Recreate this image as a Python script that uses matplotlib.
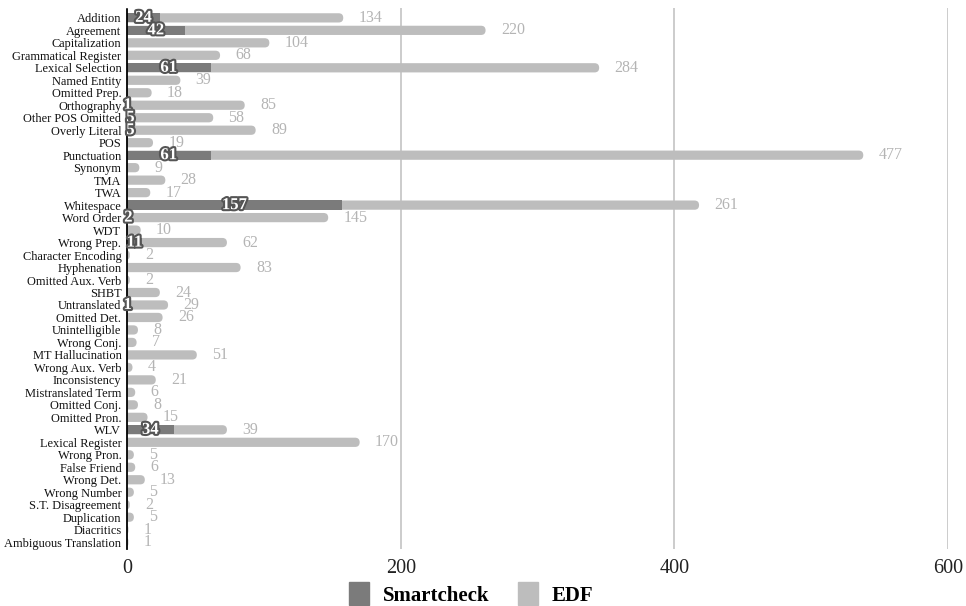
import matplotlib
matplotlib.use("Agg")
import matplotlib.pyplot as plt
import matplotlib.patches as mpatches
import matplotlib.patheffects as pe
import numpy

# Data

categories = [
    "Addition", "Agreement", "Capitalization", "Grammatical Register",
    "Lexical Selection", "Named Entity", "Omitted Prep.", "Orthography",
    "Other POS Omitted", "Overly Literal", "POS", "Punctuation", "Synonym",
    "TMA", "TWA", "Whitespace", "Word Order", "WDT", "Wrong Prep.",
    "Character Encoding", "Hyphenation", "Omitted Aux. Verb", "SHBT",
    "Untranslated", "Omitted Det.", "Unintelligible", "Wrong Conj.",
    "MT Hallucination", "Wrong Aux. Verb", "Inconsistency",
    "Mistranslated Term", "Omitted Conj.", "Omitted Pron.", "WLV",
    "Lexical Register", "Wrong Pron.", "False Friend", "Wrong Det.",
    "Wrong Number", "S.T. Disagreement", "Duplication", "Diacritics",
    "Ambiguous Translation",
]

smartcheck = [24, 42, 0, 0, 61, 0, 0, 1, 5, 5, 0, 61, 0, 0, 0, 157, 2, 0, 11,
              0, 0, 0, 0, 1, 0, 0, 0, 0, 0, 0, 0, 0, 0, 34, 0, 0, 0, 0, 0, 0,
              0, 0, 0]

edf = [134, 220, 104, 68, 284, 39, 18, 85, 58, 89, 19, 477, 9, 28, 17, 261,
       145, 10, 62, 2, 83, 2, 24, 29, 26, 8, 7, 51, 4, 21, 6, 8, 15, 39, 170,
       5, 6, 13, 5, 2, 5, 1, 1]

x_ticks = [0, 200, 400, 600]

series_names = ["Smartcheck", "EDF"]
colors = ["#7b7b7b", "#bdbdbd"]

# Plot generation

plt.rcParams["font.family"] = ["Liberation Serif", "DejaVu Serif"]

fig = plt.figure(figsize=(9.66, 6.06), dpi=100)
ax = fig.add_axes([0.1315, 0.094, 0.85, 0.893])

n = len(categories)
y = numpy.arange(n)
sc = numpy.array(smartcheck)
ed = numpy.array(edf)
total = sc + ed

bar_h = 0.74
r_x = 3.4          # rounding radius in x units
aspect = 0.11      # y units per x unit (visual)

# EDF bars drawn over the full length, rounded at the right end
for i in range(n):
    if total[i] <= 0:
        continue
    w = total[i] + r_x
    r = min(r_x, w / 2.0, bar_h / aspect / 2.0)
    p = mpatches.FancyBboxPatch((-r_x, y[i] - bar_h / 2), w, bar_h,
                                boxstyle=mpatches.BoxStyle("Round", pad=0, rounding_size=r),
                                mutation_aspect=aspect,
                                facecolor=colors[1], edgecolor="none", zorder=2)
    ax.add_patch(p)

ax.barh(y, sc, height=bar_h, color=colors[0], zorder=3)

# labels
for i in range(n):
    if sc[i] > 0:
        ax.text(sc[i] / 2.0, y[i], str(sc[i]), ha="center", va="center",
                fontsize=12, fontweight="bold", color="white", zorder=5,
                path_effects=[pe.withStroke(linewidth=3, foreground="#555555")])
    ax.annotate(str(ed[i]), xy=(total[i], y[i]), xytext=(11, 0),
                textcoords="offset points", ha="left", va="center",
                fontsize=11.5, color="#b4b4b4", zorder=5)

ax.set_xlim(0, 600)
ax.set_ylim(n - 0.45, -0.8)

ax.set_xticks(x_ticks)
ax.set_xticklabels([str(t) for t in x_ticks], fontsize=14.5, color="#222222")
ax.set_yticks(y)
ax.set_yticklabels(categories, fontsize=8.9, color="#111111")
ax.tick_params(axis="both", length=0)
ax.tick_params(axis="x", pad=7)
ax.tick_params(axis="y", pad=4)

for xv in x_ticks[1:]:
    ax.axvline(xv, color="#c8c8c8", linewidth=1.3, zorder=1)

for s in ["top", "right", "bottom"]:
    ax.spines[s].set_visible(False)
ax.spines["left"].set_linestyle((0, (3, 1)))
ax.spines["left"].set_linewidth(1.3)
ax.spines["left"].set_zorder(4)

patches = [mpatches.Patch(color=colors[k], label=series_names[k]) for k in range(2)]
fig.legend(handles=patches, loc="center", bbox_to_anchor=(0.488, 0.02), ncol=2,
           frameon=False, prop={"weight": "bold", "size": 15},
           handlelength=0.96, handleheight=1.3, columnspacing=1.34, handletextpad=0.67,
           borderaxespad=0, borderpad=0)

fig.savefig("out.png", dpi=100)
